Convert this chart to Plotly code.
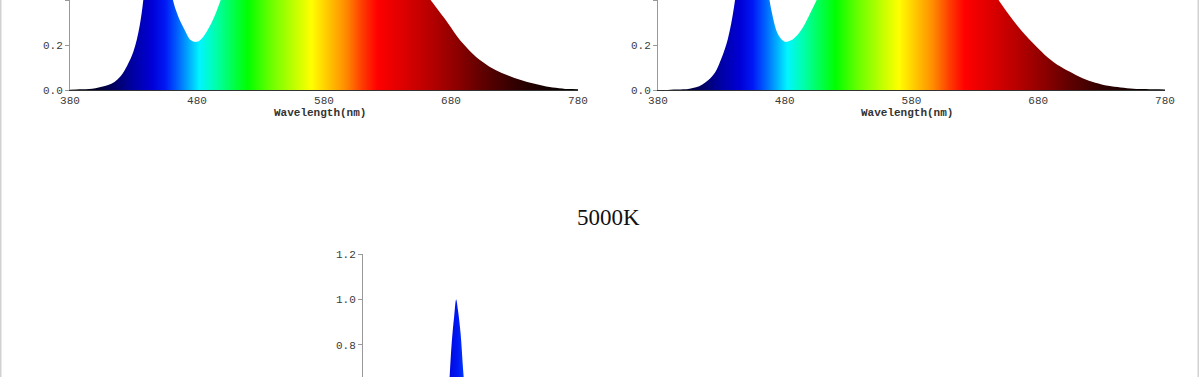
import plotly.graph_objects as go

# ---------------- data ----------------
wl_left = [380, 385, 390, 395, 400, 405, 410, 415, 420, 425, 430, 435, 440, 445, 450, 455, 460, 465, 470, 475,
           480, 485, 490, 495, 500, 505, 510, 515, 520, 525, 530, 535, 540, 545, 550, 555, 560, 565, 570, 575,
           580, 585, 590, 595, 600, 605, 610, 615, 620, 625, 630, 635, 640, 645, 650, 655, 660, 665, 670, 675,
           680, 685, 690, 695, 700, 705, 710, 715, 720, 725, 730, 735, 740, 745, 750, 755, 760, 765, 770, 775, 780]
val_left = [0.001, 0.002, 0.003, 0.005, 0.008, 0.014, 0.022, 0.036, 0.062, 0.108, 0.172, 0.29, 0.52, 0.82, 1.0,
            0.84, 0.43, 0.33, 0.27, 0.222, 0.214, 0.237, 0.283, 0.345, 0.42, 0.49, 0.55, 0.60, 0.65, 0.69,
            0.73, 0.76, 0.79, 0.82, 0.84, 0.86, 0.88, 0.89, 0.90, 0.91, 0.91, 0.91, 0.90, 0.89, 0.87, 0.85,
            0.82, 0.79, 0.75, 0.71, 0.67, 0.62, 0.58, 0.54, 0.50, 0.465, 0.43, 0.392, 0.355, 0.318, 0.278,
            0.237, 0.203, 0.172, 0.146, 0.124, 0.105, 0.089, 0.076, 0.064, 0.053, 0.044, 0.036, 0.029, 0.022,
            0.016, 0.011, 0.008, 0.005, 0.004, 0.003]

wl_right = wl_left
val_right = [0.0, 0.0, 0.001, 0.002, 0.003, 0.006, 0.012, 0.025, 0.046, 0.078, 0.14, 0.225, 0.37, 0.62, 0.92,
             1.0, 0.85, 0.52, 0.34, 0.244, 0.215, 0.221, 0.245, 0.285, 0.34, 0.398, 0.46, 0.52, 0.57, 0.62,
             0.66, 0.70, 0.74, 0.77, 0.80, 0.82, 0.84, 0.855, 0.865, 0.87, 0.87, 0.86, 0.845, 0.82, 0.79, 0.755,
             0.72, 0.68, 0.64, 0.60, 0.56, 0.52, 0.475, 0.432, 0.389, 0.349, 0.311, 0.276, 0.243, 0.213, 0.184,
             0.157, 0.133, 0.112, 0.096, 0.081, 0.066, 0.052, 0.041, 0.032, 0.025, 0.019, 0.014, 0.011, 0.008,
             0.006, 0.005, 0.004, 0.003, 0.003, 0.002]

wl_5000 = [380, 390, 400, 410, 420, 430, 435, 440, 442, 444, 446, 448, 450, 452, 453.5, 455, 457, 459, 461,
           463, 465, 468, 472, 476, 480, 490, 500, 520, 540, 560, 580, 600, 620, 640, 660, 680, 700, 720, 740,
           760, 780]
val_5000 = [0.0, 0.002, 0.005, 0.012, 0.03, 0.07, 0.10, 0.18, 0.25, 0.35, 0.48, 0.63, 0.81, 0.93, 1.0, 0.95,
            0.85, 0.69, 0.55, 0.43, 0.34, 0.26, 0.20, 0.17, 0.165, 0.19, 0.25, 0.38, 0.47, 0.52, 0.53, 0.50,
            0.43, 0.35, 0.26, 0.18, 0.11, 0.06, 0.03, 0.012, 0.004]

x_ticks = [380, 480, 580, 680, 780]
x_tick_text = ["380", "480", "580", "680", "780"]
title_text = "5000K"
x_title = "Wavelength(nm)"

# ---------------- styling ----------------
W, H = 1200, 377
spec_stops = [(380, (0, 0, 0)), (400, (0, 0, 40)), (415, (0, 0, 100)), (430, (0, 0, 165)), (445, (0, 0, 215)),
              (455, (0, 25, 245)), (465, (0, 100, 255)), (475, (0, 185, 255)), (482, (0, 245, 255)),
              (495, (0, 255, 170)), (508, (0, 255, 80)), (520, (0, 255, 0)), (537, (100, 255, 0)),
              (555, (185, 255, 0)), (570, (255, 255, 0)), (583, (255, 200, 0)), (597, (255, 140, 0)),
              (610, (255, 60, 0)), (622, (255, 0, 0)), (640, (225, 0, 0)), (665, (180, 0, 0)),
              (685, (140, 0, 0)), (705, (95, 0, 0)), (730, (50, 0, 0)), (755, (20, 0, 0)), (780, (0, 0, 0))]
colorscale = [[(w - 380) / 400, "rgb(%d,%d,%d)" % c] for w, c in spec_stops]

mono = "Courier New, Liberation Mono, monospace"
tick_font = dict(family=mono, size=11, color="#3a3a3a")


def px_x(p):
    return p / W


def px_y(p):
    return 1 - p / H


fig = go.Figure()
for wl, val, xa, ya in [(wl_left, val_left, "x", "y"), (wl_right, val_right, "x2", "y2"),
                        (wl_5000, val_5000, "x3", "y3")]:
    fig.add_trace(go.Scatter(
        x=wl, y=val, mode="lines", line=dict(width=0, shape="spline", color="rgba(0,0,0,0)"),
        fill="tozeroy",
        fillgradient=dict(type="horizontal", colorscale=colorscale, start=380, stop=780),
        xaxis=xa, yaxis=ya, hoverinfo="skip", showlegend=False))

xcommon = dict(range=[380, 780], tickvals=x_ticks, ticktext=x_tick_text, showgrid=False, zeroline=False,
               showline=True, linecolor="#333", linewidth=1, ticks="", automargin=False,
               tickfont=tick_font, fixedrange=True)
ycommon = dict(showgrid=False, zeroline=False, showline=True, linecolor="#999", linewidth=1,
               ticks="outside", ticklen=4, tickcolor="#999", tickfont=tick_font, fixedrange=True,
               automargin=False)

fig.update_layout(
    template="none",
    width=W, height=H, margin=dict(l=0, r=0, t=0, b=0, pad=0, autoexpand=False), autosize=False,
    paper_bgcolor="white", plot_bgcolor="white", showlegend=False,
    xaxis=dict(domain=[px_x(70), px_x(578)], anchor="y", **xcommon),
    yaxis=dict(domain=[px_y(90), 1], anchor="x", range=[0, 0.4], tickvals=[0, 0.2, 0.4],
               ticktext=["0.0", "0.2", "0.4"], **ycommon),
    xaxis2=dict(domain=[px_x(658), px_x(1165)], anchor="y2", **xcommon),
    yaxis2=dict(domain=[px_y(90), 1], anchor="x2", range=[0, 0.4], tickvals=[0, 0.2, 0.4],
                ticktext=["0.0", "0.2", "0.4"], **ycommon),
    xaxis3=dict(domain=[px_x(363), px_x(870)], anchor="y3", range=[380, 780], visible=False,
                fixedrange=True, automargin=False),
    yaxis3=dict(domain=[0, px_y(254)], anchor="x3", range=[0.659, 1.2], tickvals=[0.8, 1.0, 1.2],
                ticktext=["0.8", "1.0", "1.2"], **ycommon),
)

annotations = [
    dict(text="<b>%s</b>" % x_title, x=px_x(320), y=px_y(113), xref="paper", yref="paper",
         showarrow=False, xanchor="center", yanchor="middle", font=dict(family=mono, size=11, color="#333")),
    dict(text="<b>%s</b>" % x_title, x=px_x(907), y=px_y(113), xref="paper", yref="paper",
         showarrow=False, xanchor="center", yanchor="middle", font=dict(family=mono, size=11, color="#333")),
    dict(text=title_text, x=px_x(609), y=px_y(217), xref="paper", yref="paper", showarrow=False,
         xanchor="center", yanchor="middle",
         font=dict(family="Times New Roman, Liberation Serif, serif", size=23, color="#111")),
]
fig.update_layout(annotations=annotations)

fig.update_layout(shapes=[
    dict(type="rect", xref="paper", yref="paper", x0=0, x1=px_x(1.5), y0=0, y1=1,
         fillcolor="#d2d2d2", line=dict(width=0), layer="above"),
    dict(type="rect", xref="paper", yref="paper", x0=px_x(1197.5), x1=px_x(1199), y0=0, y1=1,
         fillcolor="#d2d2d2", line=dict(width=0), layer="above"),
])

fig.write_html("out.html", config={"displayModeBar": False})

with open("out.html", "r", encoding="utf-8") as f:
    html = f.read()
html = html.replace("<head>", "<head><style>html,body{margin:0;padding:0;overflow:hidden;}</style>", 1)
with open("out.html", "w", encoding="utf-8") as f:
    f.write(html)
